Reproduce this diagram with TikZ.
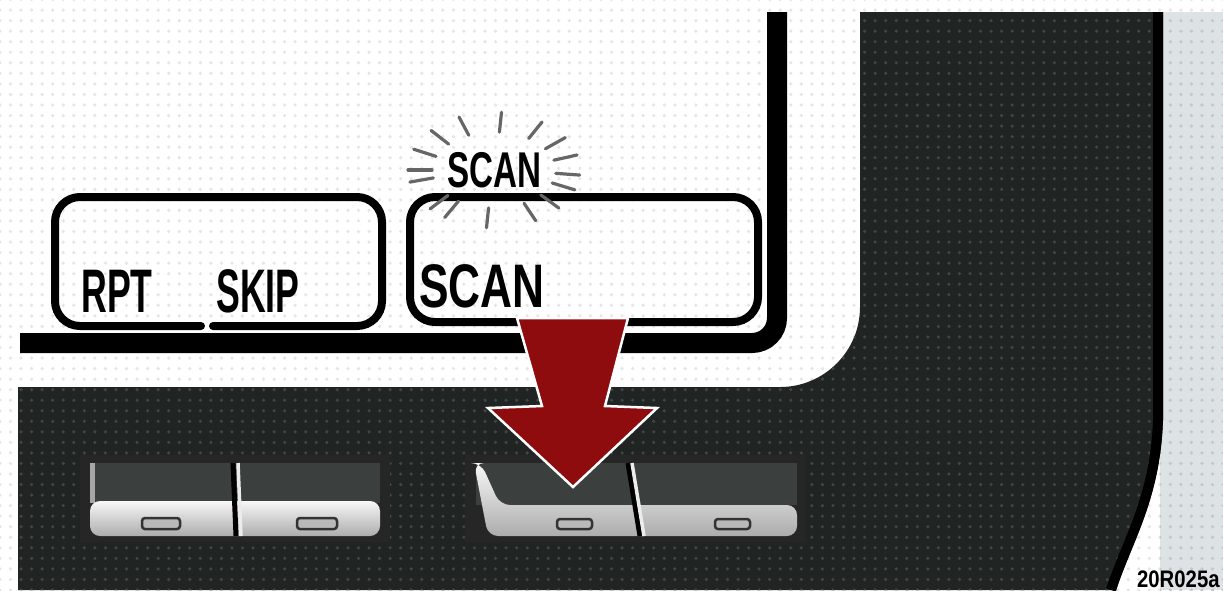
\documentclass[tikz,border=0pt]{standalone}
\usepackage{fontspec}
\usepackage{tikz}
\usetikzlibrary{patterns}
\newfontfamily\keyfont[FakeStretch=0.58]{Liberation Sans}
\newfontfamily\scanfont[FakeStretch=0.72]{Liberation Sans}
\newfontfamily\glowfont[FakeStretch=0.66]{Liberation Sans}
\newfontfamily\codefont[FakeStretch=0.85]{Liberation Sans}
\definecolor{panel}{HTML}{202523}
\definecolor{sidebg}{HTML}{DDE2E5}
\definecolor{keytop}{HTML}{3B403E}
\definecolor{arrowred}{HTML}{8E0B0E}

\begin{document}
\begin{tikzpicture}[x=0.1mm,y=-0.1mm,>=stealth,thick,
    key label/.style={inner sep=0pt, anchor=base west, font=\keyfont\bfseries\fontsize{17.5pt}{20pt}\selectfont},
    scan label/.style={inner sep=0pt, anchor=base west, font=\scanfont\bfseries\fontsize{17.5pt}{20pt}\selectfont},
    glow label/.style={inner sep=0pt, font=\glowfont\bfseries\fontsize{14.3pt}{16pt}\selectfont},
    ray/.style={black!60, line width=0.32mm, line cap=round},
    keybox/.style={line width=0.8mm, rounded corners=2.5mm, line cap=round},
    keyface/.style={top color=white!94!gray, bottom color=gray!65},
    slot/.style={fill=gray!55, draw=black!80, line width=0.25mm, rounded corners=0.3mm}]
    \useasboundingbox (0,0) rectangle (1223,590);
    \fill[white] (0,0) rectangle (1223,590);
    \fill[pattern=dots, pattern color=gray!20] (0,0) rectangle (1223,590);
    \fill[sidebg, postaction={pattern=dots, pattern color=gray!45}] (1160,12) rectangle (1223,590);
    \fill[panel, postaction={pattern=dots, pattern color=gray!35!panel}]
        (440,387) [rounded corners=8mm] -- (860,387) -- (860,250) [sharp corners] -- (860,12) -- (1163,12)
        -- (1163,420) .. controls (1160,500) and (1132,540) .. (1116,590) -- (18,590) -- (18,387) -- cycle;
    \draw[black, line width=1mm] (1158,12) -- (1158,420) .. controls (1155,500) and (1127,540) .. (1111,590);

    \draw[line width=2mm, rounded corners=2.5mm] (777,12) -- (777,343) -- (20,343);
    \draw[keybox] (213,326) -- (382,326) -- (382,197) -- (55,197) -- (55,326) -- (201,326);
    \draw[keybox] (410,197) rectangle (758,322);

    \node (rpt) [key label] at (80,312) {RPT};
    \node (skip) [key label] at (215,312) {SKIP};
    \node (scan) [scan label] at (418,307) {SCAN};
    \node (glow) [glow label] at (494,170) {SCAN};
    \foreach \a in {15,34,56,85,114,137,159,180,192,222,235,265,299,319,340,355}
        \draw[ray] ([shift={(-\a:62 and 38)}]glow.center) -- ([shift={(-\a:86 and 58)}]glow.center);

    \fill[black!85] (80,455) rectangle (390,542);
    \fill[keytop] (90,463) rectangle (380,503);
    \fill[gray!70] (90,463) rectangle (95,503);
    \shade[keyface, rounded corners=1mm] (90,501) rectangle (380,536);
    \draw[black, line width=0.5mm] (233,463) -- (236,536);
    \draw[white!85!gray, line width=0.35mm] (238,463) -- (241,536);
    \draw[slot] (142,518) rectangle (180,529);
    \draw[slot] (297,518) rectangle (337,529);

    \fill[black!85] (465,455) rectangle (805,542);
    \fill[keytop] (476,463) rectangle (797,505);
    \shade[keyface, rounded corners=1mm] (474,463) -- (481,463) -- (500,505) -- (797,505) -- (797,536) -- (488,536) -- cycle;
    \draw[black, line width=0.5mm] (628,463) -- (640,536);
    \draw[white!85!gray, line width=0.35mm] (632,463) -- (644,536);
    \draw[slot] (557,519) rectangle (592,529);
    \draw[slot] (715,519) rectangle (750,529);

    \filldraw[fill=arrowred, draw=white, line width=0.25mm] (517,318) -- (628,318) -- (605,406) -- (657,408)
        -- (573,487) -- (488,408) -- (542,406) -- cycle;

    \node (code) [anchor=south east, inner sep=0pt, font=\codefont\bfseries\fontsize{6.8pt}{8pt}\selectfont] at (1221,589) {20R025a};
\end{tikzpicture}
\end{document}
